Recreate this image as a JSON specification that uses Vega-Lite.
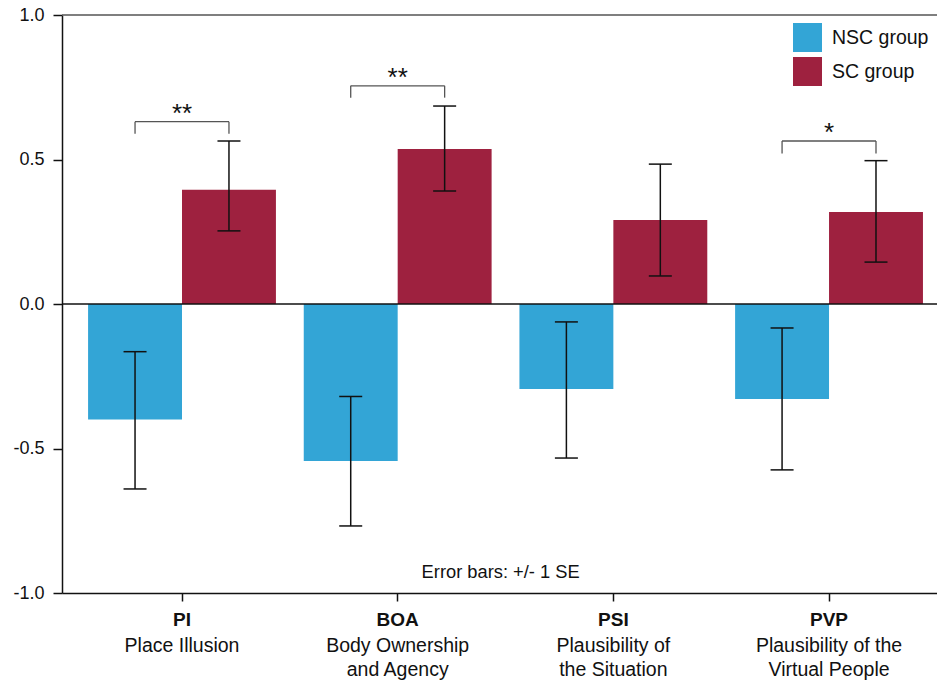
{
  "$schema": "https://vega.github.io/schema/vega-lite/v6.json",
  "width": 875,
  "height": 578,
  "autosize": "none",
  "padding": {"left": 62, "top": 15, "right": 0, "bottom": 90},
  "background": "white",
  "config": {
    "font": "Liberation Sans",
    "view": {"stroke": null},
    "axis": {"grid": false, "domainColor": "#111111", "tickColor": "#111111", "labelColor": "#111111", "labelFontSize": 18, "domainWidth": 1.5, "tickWidth": 1.5}
  },
  "datasets": {
    "bars": [
      {"code": "PI", "series": "NSC group", "mean": -0.40, "lo": -0.640, "hi": -0.165},
      {"code": "PI", "series": "SC group", "mean": 0.395, "lo": 0.253, "hi": 0.564},
      {"code": "BOA", "series": "NSC group", "mean": -0.543, "lo": -0.768, "hi": -0.320},
      {"code": "BOA", "series": "SC group", "mean": 0.536, "lo": 0.391, "hi": 0.685},
      {"code": "PSI", "series": "NSC group", "mean": -0.294, "lo": -0.533, "hi": -0.062},
      {"code": "PSI", "series": "SC group", "mean": 0.291, "lo": 0.097, "hi": 0.484},
      {"code": "PVP", "series": "NSC group", "mean": -0.329, "lo": -0.574, "hi": -0.083},
      {"code": "PVP", "series": "SC group", "mean": 0.318, "lo": 0.145, "hi": 0.496}
    ],
    "brackets": [
      {"code": "PI", "top": 0.631, "star": "**"},
      {"code": "BOA", "top": 0.755, "star": "**"},
      {"code": "PVP", "top": 0.564, "star": "*"}
    ],
    "legs": [
      {"code": "PI", "series": "NSC group", "top": 0.631, "bottom": 0.589},
      {"code": "PI", "series": "SC group", "top": 0.631, "bottom": 0.589},
      {"code": "BOA", "series": "NSC group", "top": 0.755, "bottom": 0.714},
      {"code": "BOA", "series": "SC group", "top": 0.755, "bottom": 0.714},
      {"code": "PVP", "series": "NSC group", "top": 0.564, "bottom": 0.521},
      {"code": "PVP", "series": "SC group", "top": 0.564, "bottom": 0.521}
    ],
    "labels": [
      {"code": "PI", "desc": "Place Illusion"},
      {"code": "BOA", "desc": "Body Ownership\nand Agency"},
      {"code": "PSI", "desc": "Plausibility of\nthe Situation"},
      {"code": "PVP", "desc": "Plausibility of the\nVirtual People"}
    ],
    "note": [{"text": "Error bars: +/- 1 SE"}]
  },
  "layer": [
    {
      "data": {"name": "bars"},
      "mark": {"type": "bar"},
      "encoding": {
        "x": {
          "field": "code", "type": "nominal", "sort": ["PI", "BOA", "PSI", "PVP"],
          "scale": {"domain": ["PI", "BOA", "PSI", "PVP"], "paddingInner": 0.129, "paddingOuter": 0.093, "align": 0.65},
          "axis": {"title": null, "labelAngle": 0, "labelFontWeight": "bold", "labelFontSize": 19, "tickSize": 8, "labelPadding": 9}
        },
        "xOffset": {"field": "series", "type": "nominal", "scale": {"domain": ["NSC group", "SC group"], "paddingInner": 0, "paddingOuter": 0}},
        "y": {
          "field": "mean", "type": "quantitative",
          "scale": {"domain": [-1, 1], "nice": false, "zero": false},
          "axis": {"title": null, "values": [-1, -0.5, 0, 0.5, 1], "tickSize": 9, "labelPadding": 9, "labelExpr": "replace(format(datum.value, '.1f'), '\u2212', '-')"}
        },
        "color": {
          "field": "series", "type": "nominal",
          "scale": {"domain": ["NSC group", "SC group"], "range": ["#33A5D6", "#9E213F"]},
          "legend": {"title": null, "orient": "none", "legendX": 731, "legendY": 8, "symbolType": "square", "symbolSize": 841, "symbolStrokeWidth": 0, "symbolOpacity": 1, "labelFontSize": 19.5, "labelOffset": 10, "rowPadding": 5, "labelColor": "#111111"}
        }
      }
    },
    {
      "data": {"name": "bars"},
      "mark": {"type": "rule", "color": "#111111", "strokeWidth": 1.5},
      "encoding": {
        "x": {"field": "code", "type": "nominal", "sort": ["PI", "BOA", "PSI", "PVP"]},
        "xOffset": {"field": "series", "type": "nominal"},
        "y": {"field": "lo", "type": "quantitative"},
        "y2": {"field": "hi"}
      }
    },
    {
      "data": {"name": "bars"},
      "mark": {"type": "tick", "color": "#111111", "size": 23, "thickness": 1.5, "opacity": 1},
      "encoding": {
        "x": {"field": "code", "type": "nominal", "sort": ["PI", "BOA", "PSI", "PVP"]},
        "xOffset": {"field": "series", "type": "nominal"},
        "y": {"field": "lo", "type": "quantitative"}
      }
    },
    {
      "data": {"name": "bars"},
      "mark": {"type": "tick", "color": "#111111", "size": 23, "thickness": 1.5, "opacity": 1},
      "encoding": {
        "x": {"field": "code", "type": "nominal", "sort": ["PI", "BOA", "PSI", "PVP"]},
        "xOffset": {"field": "series", "type": "nominal"},
        "y": {"field": "hi", "type": "quantitative"}
      }
    },
    {
      "data": {"values": [{}]},
      "mark": {"type": "rule", "color": "#111111", "strokeWidth": 1.5},
      "encoding": {"y": {"datum": 0}}
    },
    {
      "data": {"values": [{}]},
      "mark": {"type": "rule", "color": "#555555", "strokeWidth": 1.5},
      "encoding": {"y": {"datum": 1}}
    },
    {
      "data": {"name": "brackets"},
      "mark": {"type": "tick", "color": "#555555", "size": 94, "thickness": 1.3, "opacity": 1},
      "encoding": {
        "x": {"field": "code", "type": "nominal", "sort": ["PI", "BOA", "PSI", "PVP"]},
        "y": {"field": "top", "type": "quantitative"}
      }
    },
    {
      "data": {"name": "legs"},
      "mark": {"type": "rule", "color": "#555555", "strokeWidth": 1.3},
      "encoding": {
        "x": {"field": "code", "type": "nominal", "sort": ["PI", "BOA", "PSI", "PVP"]},
        "xOffset": {"field": "series", "type": "nominal"},
        "y": {"field": "top", "type": "quantitative"},
        "y2": {"field": "bottom"}
      }
    },
    {
      "data": {"name": "brackets"},
      "mark": {"type": "text", "fontSize": 26, "align": "center", "baseline": "alphabetic", "dy": 0, "color": "#111111"},
      "encoding": {
        "x": {"field": "code", "type": "nominal", "sort": ["PI", "BOA", "PSI", "PVP"]},
        "y": {"field": "top", "type": "quantitative"},
        "text": {"field": "star"}
      }
    },
    {
      "data": {"name": "labels"},
      "mark": {"type": "text", "fontSize": 19.5, "align": "center", "baseline": "top", "dy": 44, "lineBreak": "\n", "lineHeight": 23.5, "color": "#111111"},
      "encoding": {
        "x": {"field": "code", "type": "nominal", "sort": ["PI", "BOA", "PSI", "PVP"]},
        "y": {"datum": -1},
        "text": {"field": "desc"}
      }
    },
    {
      "data": {"name": "note"},
      "mark": {"type": "text", "fontSize": 18.3, "align": "center", "baseline": "middle", "dx": 9, "color": "#111111"},
      "encoding": {
        "x": {"datum": "BOA", "type": "nominal", "bandPosition": 1},
        "y": {"datum": -0.931},
        "text": {"field": "text"}
      }
    }
  ]
}
